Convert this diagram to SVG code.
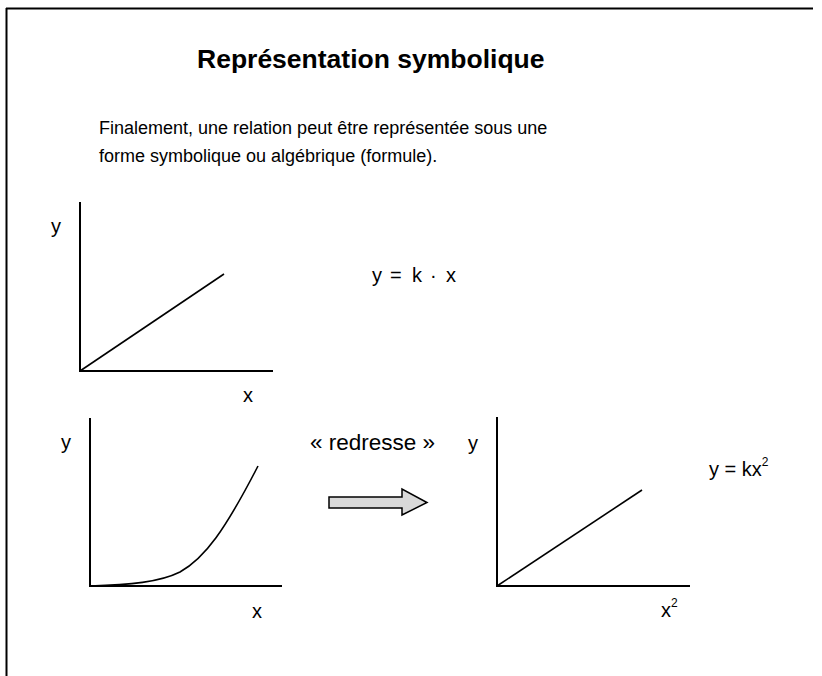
<svg xmlns="http://www.w3.org/2000/svg" width="822" height="676" viewBox="0 0 822 676">
<style>
text{font-family:"Liberation Sans",Arial,sans-serif;fill:#000}
.t{font-size:18px}
.l{font-size:20px}
.ax{stroke:#000;stroke-width:2;fill:none}
.ln{stroke:#000;stroke-width:1.6;fill:none}
.sup{font-size:12px}
</style>
<rect width="822" height="676" fill="#fff"/>
<g id="frame">
<line x1="6" y1="8.5" x2="813" y2="8.5" stroke="#000" stroke-width="2"/>
<line x1="6.5" y1="8" x2="6.5" y2="676" stroke="#000" stroke-width="2"/>
</g>
<g id="title"><text x="197" y="68" font-size="26.5" font-weight="bold">Représentation symbolique</text></g>
<g id="intro">
<text class="t" x="99" y="134">Finalement, une relation peut être représentée sous une</text>
<text class="t" x="99" y="162">forme symbolique ou algébrique (formule).</text>
</g>
<g id="graph1">
<path class="ax" d="M80,202 V371 H273"/>
<line class="ln" x1="80" y1="371" x2="224" y2="274"/>
<text class="l" x="51" y="233">y</text>
<text class="l" x="243" y="402">x</text>
</g>
<g id="formula1"><text class="l" y="282"><tspan x="372">y</tspan><tspan x="390">=</tspan><tspan x="412">k</tspan><tspan x="430">·</tspan><tspan x="446">x</tspan></text></g>
<g id="graph2">
<path class="ax" d="M90,418 V586 H282"/>
<path class="ln" d="M90,586 C130,585 160,582 180,572 C205,558 225,530 258,466"/>
<text class="l" x="61" y="449">y</text>
<text class="l" x="252" y="618">x</text>
</g>
<g id="connectors">
<text x="310" y="450" font-size="22.5">« redresse »</text>
<path d="M329,497 H402 V489 L427,502.5 L402,515 V508 H329 Z" fill="#d9d9d9" stroke="#000" stroke-width="1.5"/>
</g>
<g id="graph3">
<path class="ax" d="M497,417 V586 H690"/>
<line class="ln" x1="497" y1="586" x2="642" y2="490"/>
<text class="l" x="468" y="450">y</text>
<text class="l" x="661" y="617">x<tspan class="sup" dy="-10">2</tspan></text>
</g>
<g id="formula2"><text class="l" x="709" y="476">y = kx<tspan class="sup" dy="-10">2</tspan></text></g>
</svg>
